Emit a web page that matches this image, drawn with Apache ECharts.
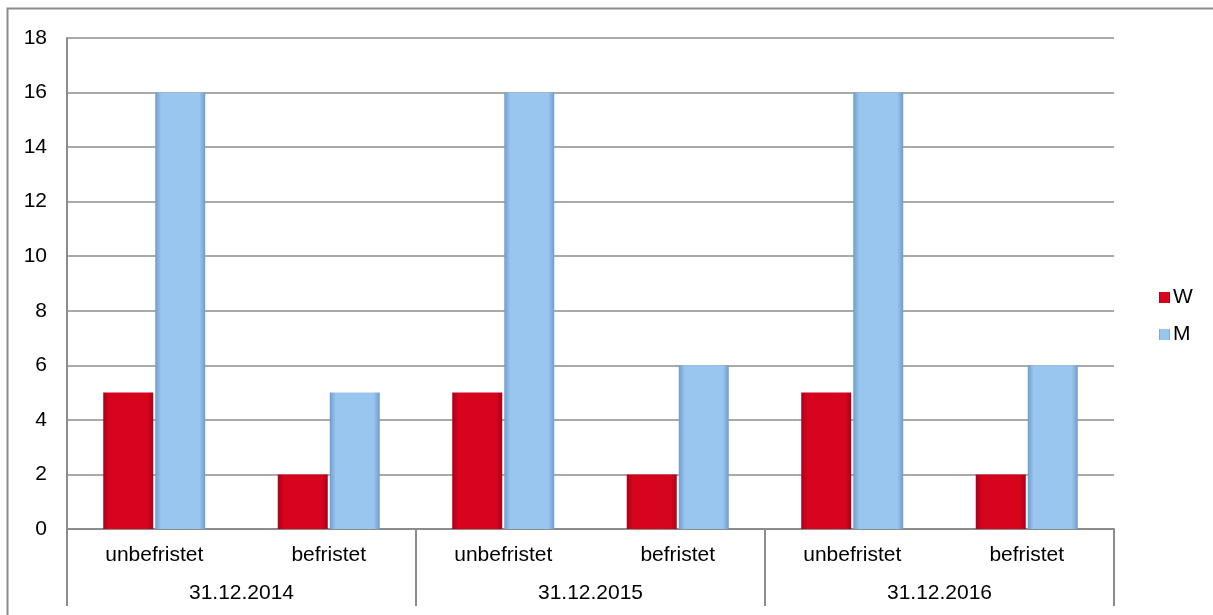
<!DOCTYPE html>
<html>
<head>
<meta charset="utf-8">
<script src="https://cdn.jsdelivr.net/npm/echarts@6/dist/echarts.min.js"></script>
<style>
html, body { margin: 0; padding: 0; background: #fff; }
#container { width: 1213px; height: 615px; }
</style>
</head>
<body>
<div id="container"></div>
<script>
var subCats = ['unbefristet', 'befristet', 'unbefristet', 'befristet', 'unbefristet', 'befristet'];
var groups = ['31.12.2014', '31.12.2015', '31.12.2016'];
var wValues = [5, 2, 5, 2, 5, 2];
var mValues = [16, 5, 16, 6, 16, 6];

var chart = echarts.init(document.getElementById('container'));

// bevel look: darker edges, flat middle
function bevel(edge, main) {
    return new echarts.graphic.LinearGradient(0, 0, 1, 0, [
        { offset: 0, color: edge },
        { offset: 0.12, color: main },
        { offset: 0.88, color: main },
        { offset: 1, color: edge }
    ]);
}

var labelFont = { color: '#000', fontSize: 21, fontFamily: 'Liberation Sans, Arial, sans-serif' };

var option = {
    backgroundColor: '#fff',
    animation: false,
    graphic: [{
        type: 'rect',
        shape: { x: 7.5, y: 8.5, width: 1230, height: 630 },
        style: { fill: 'none', stroke: '#8c8c8c', lineWidth: 2 },
        silent: true
    }],
    grid: { left: 67, right: 99, top: 38, bottom: 86 },
    legend: {
        orient: 'vertical',
        left: 1154,
        top: 282,
        itemWidth: 11,
        itemHeight: 11,
        itemGap: 16,
        icon: 'rect',
        textStyle: { color: '#000', fontSize: 21, fontFamily: 'Liberation Sans, Arial, sans-serif', padding: [0, 0, 0, -2] },
        data: ['W', 'M']
    },
    xAxis: [{
        type: 'category',
        data: subCats,
        axisLine: { lineStyle: { color: '#8c8c8c', width: 2 } },
        axisTick: { show: false },
        axisLabel: Object.assign({ interval: 0, margin: 16 }, labelFont)
    }, {
        type: 'category',
        data: groups,
        position: 'bottom',
        axisLine: { show: false },
        axisTick: { show: true, length: 77, lineStyle: { color: '#8c8c8c', width: 2 } },
        axisLabel: Object.assign({ interval: 0, margin: 54 }, labelFont)
    }],
    yAxis: {
        type: 'value',
        min: 0,
        max: 18,
        interval: 2,
        axisLine: { show: true, lineStyle: { color: '#8c8c8c', width: 2 } },
        axisTick: { show: false },
        axisLabel: Object.assign({ margin: 20 }, labelFont),
        splitLine: { lineStyle: { color: '#8c8c8c', width: 1.5 } }
    },
    series: [{
        name: 'W',
        type: 'bar',
        barWidth: 50,
        barGap: '4%',
        data: wValues,
        itemStyle: { color: bevel('#a8001a', '#d7041e') }
    }, {
        name: 'M',
        type: 'bar',
        barWidth: 50,
        data: mValues,
        itemStyle: { color: bevel('#6f9ccc', '#99c6ee') }
    }]
};

chart.setOption(option);
</script>
</body>
</html>
